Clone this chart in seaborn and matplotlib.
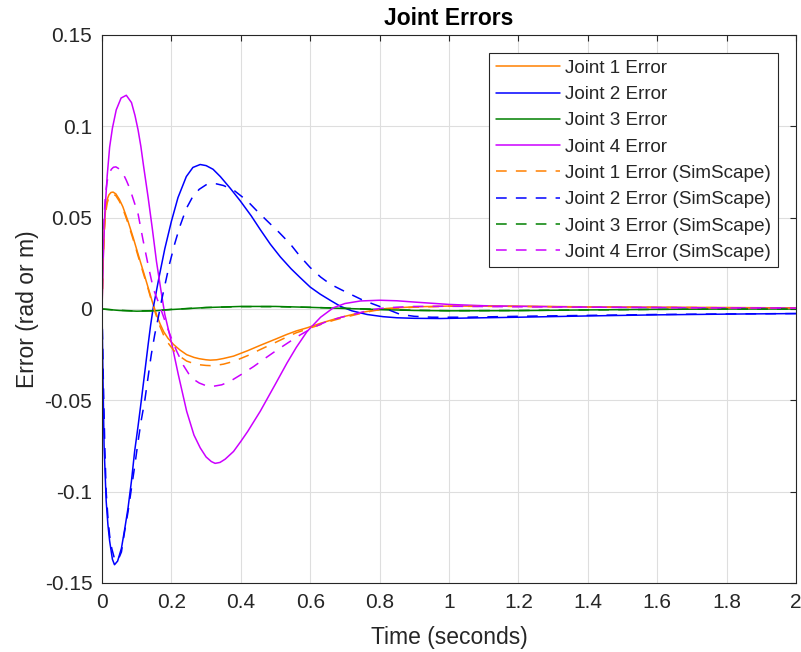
import numpy as np
import pandas as pd
import matplotlib
matplotlib.use("Agg")
import matplotlib.pyplot as plt
import seaborn as sns

# ---- data ----
t_j1 = [0, 0.003, 0.006, 0.01, 0.015, 0.02, 0.026, 0.032, 0.04, 0.05, 0.06, 0.075, 0.09, 0.104,
        0.12, 0.133, 0.145, 0.157, 0.167, 0.178, 0.19, 0.206, 0.225, 0.244, 0.265, 0.28, 0.3,
        0.312, 0.33, 0.35, 0.379, 0.42, 0.456, 0.5, 0.533, 0.56, 0.591, 0.63, 0.667, 0.7, 0.745,
        0.78, 0.82, 0.9, 1.0, 1.2, 1.4, 1.6, 1.8, 2.0]
j1 = [0, 0.025, 0.042, 0.054, 0.06, 0.0625, 0.0638, 0.064, 0.063, 0.060, 0.056, 0.048, 0.039,
      0.030, 0.020, 0.0117, 0.004, -0.003, -0.008, -0.0125, -0.016, -0.0194, -0.0225, -0.025,
      -0.0265, -0.0272, -0.0278, -0.028, -0.0278, -0.0271, -0.0258, -0.0228, -0.0199, -0.0165,
      -0.0139, -0.012, -0.0103, -0.0078, -0.0057, -0.004, -0.002, -0.0008, 0.0003, 0.0012,
      0.0016, 0.0015, 0.0012, 0.001, 0.0008, 0.0006]
j1_sim = [0, 0.023, 0.04, 0.052, 0.058, 0.0612, 0.0626, 0.063, 0.062, 0.059, 0.055, 0.047, 0.038,
          0.029, 0.019, 0.011, 0.003, -0.004, -0.0095, -0.0145, -0.0185, -0.0225, -0.026,
          -0.0285, -0.0299, -0.0305, -0.0309, -0.031, -0.0308, -0.0302, -0.0287, -0.0255,
          -0.0222, -0.0183, -0.0153, -0.013, -0.011, -0.0085, -0.0062, -0.0045, -0.0025, -0.001,
          0.0001, 0.001, 0.0015, 0.0014, 0.0011, 0.0009, 0.0007, 0.0005]

t_j2 = [0, 0.003, 0.006, 0.012, 0.017, 0.022, 0.03, 0.036, 0.045, 0.056, 0.065, 0.075, 0.085,
        0.094, 0.104, 0.113, 0.123, 0.133, 0.14, 0.147, 0.165, 0.181, 0.2, 0.219, 0.243, 0.262,
        0.283, 0.3, 0.32, 0.341, 0.37, 0.398, 0.43, 0.456, 0.485, 0.514, 0.545, 0.571, 0.6,
        0.629, 0.66, 0.687, 0.72, 0.764, 0.81, 0.85, 0.9, 0.975, 1.1, 1.2, 1.4, 1.6, 1.8, 2.0]
j2 = [0, -0.04, -0.075, -0.105, -0.118, -0.127, -0.137, -0.140, -0.138, -0.131, -0.121, -0.109,
      -0.094, -0.078, -0.064, -0.0505, -0.035, -0.0194, -0.009, 0.0, 0.018, 0.033, 0.048, 0.061,
      0.0725, 0.0775, 0.0791, 0.0785, 0.0765, 0.0725, 0.066, 0.0593, 0.051, 0.0435, 0.0355,
      0.0285, 0.022, 0.0172, 0.012, 0.0081, 0.0045, 0.0015, -0.001, -0.003, -0.0042, -0.0048,
      -0.0051, -0.0052, -0.0048, -0.0045, -0.0038, -0.0032, -0.0028, -0.0025]

t_j2_sim = [0, 0.004, 0.008, 0.012, 0.017, 0.022, 0.028, 0.035, 0.045, 0.056, 0.065, 0.075, 0.085,
            0.095, 0.104, 0.113, 0.123, 0.133, 0.142, 0.152, 0.162, 0.172, 0.18, 0.195, 0.21,
            0.224, 0.243, 0.26, 0.28, 0.3, 0.312, 0.33, 0.35, 0.38, 0.418, 0.445, 0.475, 0.51,
            0.543, 0.57, 0.6, 0.63, 0.658, 0.69, 0.716, 0.75, 0.783, 0.82, 0.86, 0.9, 0.95, 1.05,
            1.2, 1.4, 1.6, 1.8, 2.0]
j2_sim = [0, -0.04, -0.075, -0.1, -0.114, -0.124, -0.131, -0.136, -0.138, -0.133, -0.122, -0.111,
          -0.098, -0.085, -0.0725, -0.061, -0.0505, -0.037, -0.025, -0.014, -0.0048, 0.005,
          0.012, 0.025, 0.036, 0.045, 0.055, 0.061, 0.0655, 0.068, 0.0685, 0.0685, 0.0676, 0.065,
          0.0593, 0.054, 0.0484, 0.042, 0.0355, 0.029, 0.0227, 0.0175, 0.0136, 0.0105, 0.0081,
          0.005, 0.0026, 0.0, -0.003, -0.004, -0.0045, -0.0045, -0.004, -0.0035, -0.003, -0.0027,
          -0.0025]

t_j3 = [0, 0.05, 0.1, 0.15, 0.2, 0.3, 0.4, 0.5, 0.6, 0.7, 0.8, 0.9, 1.0, 1.2, 1.4, 1.6, 1.8, 2.0]
j3 = [0, -0.0008, -0.0012, -0.001, -0.0003, 0.0008, 0.0014, 0.0014, 0.0009, 0.0003, -0.0003,
      -0.0008, -0.001, -0.0009, -0.0005, -0.0002, 0.0, 0.0]
j3_sim = [0, -0.0007, -0.0011, -0.0009, -0.0002, 0.0008, 0.0013, 0.0013, 0.0009, 0.0004, -0.0002,
          -0.0007, -0.0009, -0.0008, -0.0005, -0.0002, 0.0, 0.0]

t_j4 = [0, 0.004, 0.008, 0.015, 0.022, 0.03, 0.041, 0.055, 0.07, 0.085, 0.095, 0.104, 0.112, 0.12,
        0.133, 0.145, 0.157, 0.17, 0.181, 0.191, 0.201, 0.22, 0.244, 0.265, 0.283, 0.3, 0.315,
        0.326, 0.34, 0.355, 0.379, 0.4, 0.42, 0.456, 0.5, 0.533, 0.56, 0.591, 0.63, 0.667, 0.7,
        0.745, 0.8, 0.85, 0.9, 1.0, 1.1, 1.2, 1.4, 1.6, 1.8, 2.0]
j4 = [0, 0.03, 0.052, 0.073, 0.0886, 0.099, 0.109, 0.1155, 0.117, 0.113, 0.106, 0.098, 0.089,
      0.078, 0.061, 0.044, 0.026, 0.01, -0.003, -0.011, -0.019, -0.036, -0.056, -0.069, -0.076,
      -0.081, -0.0835, -0.0845, -0.084, -0.0822, -0.078, -0.0725, -0.067, -0.056, -0.041,
      -0.0296, -0.021, -0.0123, -0.0045, 0.0007, 0.003, 0.0044, 0.0048, 0.0045, 0.0038, 0.0025,
      0.0018, 0.0015, 0.001, 0.0008, 0.0006, 0.0005]

t_j4_sim = [0, 0.003, 0.006, 0.01, 0.015, 0.02, 0.027, 0.033, 0.04, 0.047, 0.055, 0.061, 0.07, 0.08,
            0.092, 0.104, 0.118, 0.133, 0.148, 0.162, 0.175, 0.186, 0.2, 0.215, 0.235, 0.25, 0.264,
            0.28, 0.3, 0.321, 0.345, 0.369, 0.4, 0.437, 0.47, 0.504, 0.54, 0.571, 0.61, 0.648, 0.69,
            0.725, 0.76, 0.8, 0.85, 0.9, 1.0, 1.2, 1.4, 1.6, 1.8, 2.0]
j4_sim = [0, 0.03, 0.05, 0.063, 0.07, 0.074, 0.0765, 0.0776, 0.0778, 0.077, 0.0755, 0.074, 0.0705,
          0.066, 0.059, 0.052, 0.038, 0.024, 0.011, 0.004, -0.003, -0.009, -0.016, -0.023, -0.031,
          -0.0355, -0.0385, -0.0405, -0.042, -0.0423, -0.0415, -0.0396, -0.036, -0.0315, -0.027,
          -0.0225, -0.018, -0.0142, -0.0100, -0.0068, -0.0045, -0.003, -0.0012, 0.0003, 0.001,
          0.0014, 0.0015, 0.0012, 0.001, 0.0008, 0.0006, 0.0005]

labels = ["Joint 1 Error", "Joint 2 Error", "Joint 3 Error", "Joint 4 Error",
          "Joint 1 Error (SimScape)", "Joint 2 Error (SimScape)",
          "Joint 3 Error (SimScape)", "Joint 4 Error (SimScape)"]
x_ticks = [0, 0.2, 0.4, 0.6, 0.8, 1.0, 1.2, 1.4, 1.6, 1.8, 2.0]
x_ticklabels = ["0", "0.2", "0.4", "0.6", "0.8", "1", "1.2", "1.4", "1.6", "1.8", "2"]
y_ticks = [-0.15, -0.1, -0.05, 0, 0.05, 0.1, 0.15]
y_ticklabels = ["-0.15", "-0.1", "-0.05", "0", "0.05", "0.1", "0.15"]

# ---- style ----
sns.set_theme(style="white")
plt.rcParams["font.family"] = ["Liberation Sans", "DejaVu Sans"]
dark = "#262626"

c_orange = "#FF8000"
c_blue = "#0000FF"
c_green = "#008000"
c_magenta = "#CC00FF"

series = [
    (t_j1, j1, c_orange, "-"),
    (t_j2, j2, c_blue, "-"),
    (t_j3, j3, c_green, "-"),
    (t_j4, j4, c_magenta, "-"),
    (t_j1, j1_sim, c_orange, "--"),
    (t_j2_sim, j2_sim, c_blue, "--"),
    (t_j3, j3_sim, c_green, "--"),
    (t_j4_sim, j4_sim, c_magenta, "--"),
]

fig = plt.figure(figsize=(8.01, 6.52), dpi=100)
ax = fig.add_axes([102 / 801, 69 / 652, 694 / 801, 548 / 652])

for (tt, vv, col, ls), lab in zip(series, labels):
    df = pd.DataFrame({"t": tt, "v": vv})
    kw = dict(dashes=(7, 6)) if ls == "--" else {}
    sns.lineplot(data=df, x="t", y="v", ax=ax, color=col, linewidth=1.1,
                 label=lab, sort=False, estimator=None, **kw)

ax.set_xlim(0, 2)
ax.set_ylim(-0.15, 0.15)
ax.set_xticks(x_ticks)
ax.set_xticklabels(x_ticklabels)
ax.set_yticks(y_ticks)
ax.set_yticklabels(y_ticklabels)

ax.grid(True, color="#DEDEDE", linewidth=0.8)
ax.set_axisbelow(True)
for sp in ax.spines.values():
    sp.set_visible(True)
    sp.set_color(dark)
    sp.set_linewidth(0.8)
ax.tick_params(axis="both", which="both", direction="in", length=4, width=0.8,
               colors=dark, labelsize=15, top=True, right=True, pad=7)
for lbl in ax.get_xticklabels() + ax.get_yticklabels():
    lbl.set_color(dark)

ax.set_xlabel("Time (seconds)", fontsize=16.5, color=dark, labelpad=10)
ax.set_ylabel("Error (rad or m)", fontsize=16.5, color=dark, labelpad=4)
ax.set_title("Joint Errors", fontsize=16.5, fontweight="bold", color="black", pad=7)

leg = ax.legend(loc="upper right", bbox_to_anchor=((778 - 102) / 694, (583 - 53) / 548),
                borderaxespad=0, fontsize=13.6, frameon=True, fancybox=False,
                framealpha=1, edgecolor=dark, handlelength=3.4, handletextpad=0.3,
                labelspacing=0.48, borderpad=0.35)
leg.get_frame().set_linewidth(0.8)
for txt in leg.get_texts():
    txt.set_color(dark)

fig.savefig("out.png", dpi=100)
